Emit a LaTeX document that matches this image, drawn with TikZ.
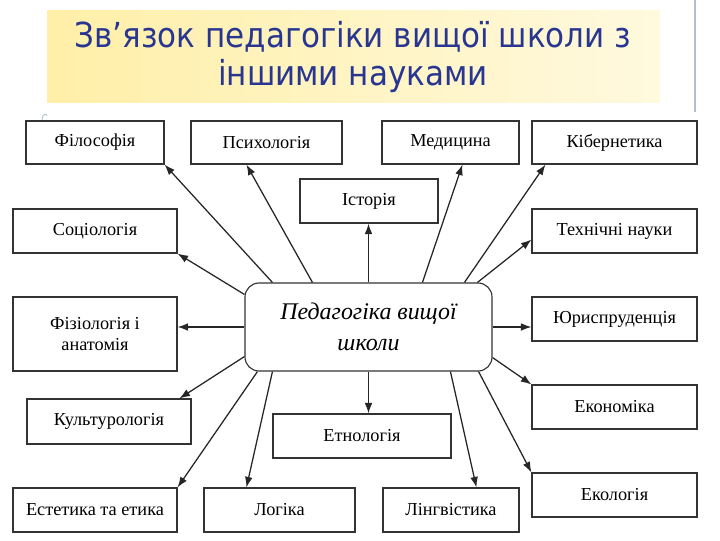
\documentclass[tikz,border=0pt]{standalone}
\usepackage{fontspec}
\setmainfont{Liberation Serif}
\newfontfamily\titlefont{DejaVu Sans Condensed}
\usetikzlibrary{arrows.meta,calc}
\definecolor{titleblue}{RGB}{40,54,146}
\definecolor{bandyellow}{RGB}{255,239,168}
\definecolor{bandpale}{RGB}{255,249,222}
\definecolor{edgeblue}{RGB}{176,190,214}
\tikzset{
  box/.style 2 args={draw=black!80, line width=0.8pt, minimum width=#1*0.025cm, minimum height=#2*0.025cm,
    inner sep=0pt, font=\fontsize{13}{15}\selectfont, align=center},
  arr/.style={-{Latex[length=7.5pt,width=5.5pt]}, line width=0.9pt, black!85}
}
\begin{document}
\begin{tikzpicture}[x=0.025cm, y=-0.025cm]
\useasboundingbox (0,0) rectangle (720,540);
\shade[left color=bandyellow, right color=bandpale] (47,10) rectangle (660,102);
\draw[edgeblue, line width=1.2pt] (695,0) -- (695,112);
\draw[edgeblue, line width=0.6pt] (42,121) .. controls (42,113) and (47,113) .. (47,116);
\node[text=titleblue, font=\titlefont\fontsize{24.5}{27.5}\selectfont, align=center] (title) at (353,57)
  {Зв’язок педагогіки вищої школи з\\іншими науками};

\node[draw=black!80, line width=0.8pt, rounded corners=0.35cm, minimum width=247*0.025cm, minimum height=88*0.025cm,
  font=\itshape\fontsize{17}{22}\selectfont, align=center] (ped) at (368.5,327) {Педагогіка вищої\\школи};

\node[box={138}{43}] (fil) at (95,142.5) {Філософія};
\node[box={151}{43}] (psy) at (266.5,142.5) {Психологія};
\node[box={137}{43}] (med) at (450.5,142.5) {Медицина};
\node[box={165}{43}] (kib) at (614.5,142.5) {Кібернетика};
\node[box={138}{44}] (ist) at (369,201) {Історія};
\node[box={164}{44}] (soc) at (95,231) {Соціологія};
\node[box={165}{44}] (tech) at (614.5,231) {Технічні науки};
\node[box={164}{74}] (fiz) at (95,334) {Фізіологія і\\анатомія};
\node[box={165}{44}] (jur) at (614.5,319) {Юриспруденція};
\node[box={165}{44}] (econ) at (614.5,407) {Економіка};
\node[box={164}{45}] (kul) at (109,421.5) {Культурологія};
\node[box={178}{44}] (etn) at (362,436) {Етнологія};
\node[box={165}{44}] (ecol) at (614.5,495) {Екологія};
\node[box={164}{44}] (est) at (95,510) {Естетика та етика};
\node[box={151}{44}] (log) at (279.5,510) {Логіка};
\node[box={136}{44}] (ling) at (451,510) {Лінгвістика};

\draw[arr] ($(ped.north west)+(28,0)$) -- (fil.south east);
\draw[arr] ($(ped.north west)+(68,0)$) -- ($(psy.south west)+(56,0)$);
\draw[arr] ($(ped.north west)+(0,12)$) -- (soc.south east);
\draw[arr] (ped.north) -- (ped.north |- ist.south);
\draw[arr] ($(ped.north west)+(178,0)$) -- ($(med.south west)+(81,0)$);
\draw[arr] ($(ped.north west)+(220,0)$) -- ($(kib.south west)+(14,0)$);
\draw[arr] ($(ped.north west)+(233,0)$) -- ($(tech.south west)+(0,-14)$);
\draw[arr] (ped.east) -- (ped.east -| jur.west);
\draw[arr] (ped.west) -- (ped.west -| fiz.east);
\draw[arr] ($(ped.south east)+(0,-14)$) -- (econ.north west);
\draw[arr] ($(ped.south east)+(-14,0)$) -- (ecol.north west);
\draw[arr] ($(ped.south west)+(206,0)$) -- ($(ling.north west)+(94,0)$);
\draw[arr] (ped.south) -- (ped.south |- etn.north);
\draw[arr] ($(ped.south west)+(28,0)$) -- ($(log.north west)+(43,0)$);
\draw[arr] ($(ped.south west)+(13,0)$) -- (est.north east);
\draw[arr] ($(ped.south west)+(0,-15)$) -- ($(kul.north west)+(153,0)$);
\end{tikzpicture}
\end{document}
